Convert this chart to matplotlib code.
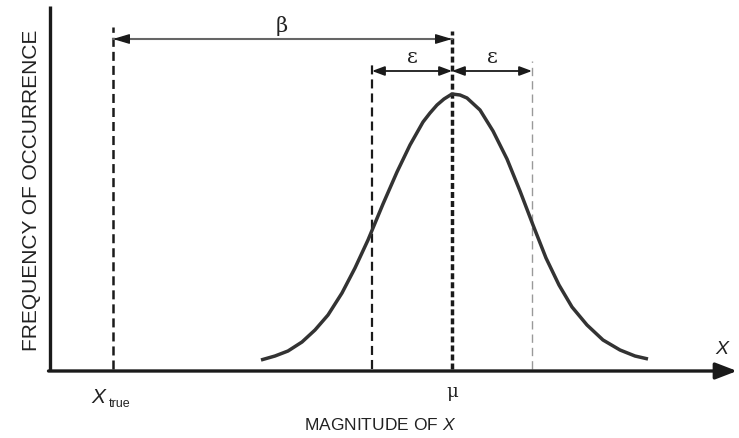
import matplotlib.pyplot as plt
import matplotlib as mpl

mpl.rcParams['lines.scale_dashes'] = False
mpl.rcParams['font.family'] = ['Liberation Sans', 'DejaVu Sans']
mpl.rcParams['mathtext.fontset'] = 'custom'
mpl.rcParams['mathtext.rm'] = 'Liberation Sans'
mpl.rcParams['mathtext.it'] = 'Liberation Sans:italic'

# bell curve (x from the y axis, y up from the x axis)
curve_x = [211, 225, 238, 252, 265, 278, 292, 305, 318, 333, 347, 360, 373, 380,
           387, 394, 402, 410, 417, 430, 443, 457, 470, 483, 496, 509, 522, 537,
           553, 570, 585, 598]
curve_y = [11, 15, 20, 29, 41, 56, 78, 103, 131, 167, 199, 226, 249, 258,
           266, 272, 277, 276, 273, 261, 240, 212, 180, 146, 113, 86, 64, 46,
           31, 21, 15, 12]

x_true = 63
mu = 402
eps = 80
x_end = 687
y_top = 365

beta_y = 332
eps_y = 300

fig = plt.figure(figsize=(7.39, 4.39), dpi=100)
ax = fig.add_axes([0, 0, 1, 1])
ax.set_xlim(-50, 689)
ax.set_ylim(-67, 372)
ax.axis('off')

ink = '#1a1a1a'

# axes lines
ax.plot([0, 0], [0, y_top], color=ink, lw=2.4, solid_capstyle='butt')
ax.annotate('', xy=(x_end, 0), xytext=(-1.5, 0),
            arrowprops=dict(arrowstyle='-|>,head_length=1.3,head_width=0.5',
                            lw=2.4, color=ink, shrinkA=0, shrinkB=0))

# vertical dashed lines
ax.plot([x_true, x_true], [2, 344], color=ink, lw=1.8, linestyle=(0, (6.5, 3.6)))
ax.plot([mu, mu], [2, 340], color=ink, lw=2.5, linestyle=(0, (4.3, 2.2)))
ax.plot([mu - eps, mu - eps], [2, 310], color=ink, lw=1.6, linestyle=(0, (6.5, 3.6)))
ax.plot([mu + eps, mu + eps], [2, 310], color='#999999', lw=1.0, linestyle=(0, (6, 3.6)))

# curve
ax.plot(curve_x, curve_y, color='#333333', lw=2.5, solid_capstyle='butt',
        solid_joinstyle='round')

# beta arrow: grey shaft, black heads
ax.plot([x_true, mu], [beta_y, beta_y], color='#666666', lw=1.5)
for tip, tail in [(x_true, x_true + 14), (mu, mu - 14)]:
    ax.annotate('', xy=(tip, beta_y), xytext=(tail, beta_y),
                arrowprops=dict(arrowstyle='-|>,head_length=1.0,head_width=0.3',
                                lw=1.0, color=ink, shrinkA=0, shrinkB=0))

# epsilon arrows
for a, b in [(mu - eps, mu), (mu, mu + eps)]:
    ax.annotate('', xy=(b, eps_y), xytext=(a, eps_y),
                arrowprops=dict(arrowstyle='<|-|>,head_length=0.75,head_width=0.28',
                                lw=1.3, color=ink, shrinkA=0, shrinkB=0))

txt = '#222222'
ax.text((x_true + mu) / 2 - 0.5, beta_y + 4, 'β', fontsize=15, color=txt,
        ha='center', va='bottom', family='DejaVu Serif')
ax.text(mu - eps / 2, eps_y + 5, 'ε', fontsize=15, color=txt,
        ha='center', va='bottom', family='DejaVu Serif')
ax.text(mu + eps / 2, eps_y + 5, 'ε', fontsize=15, color=txt,
        ha='center', va='bottom', family='DejaVu Serif')

ax.text(x_end - 15, 14, 'X', fontsize=14, style='italic', color=txt,
        ha='center', va='bottom')
ax.text(x_true - 15, -26, 'X', fontsize=15, style='italic', color=txt,
        ha='center', va='center')
ax.text(x_true - 4, -32, 'true', fontsize=9, color=txt, ha='left', va='center')
ax.text(mu, -20, 'μ', fontsize=13, color=txt, ha='center', va='center',
        family='DejaVu Serif')

ax.text(330, -53, 'MAGNITUDE OF $X$', fontsize=12.5, color=txt,
        ha='center', va='center')

ax.text(-18, 182, 'FREQUENCY OF OCCURRENCE', fontsize=15, color=txt,
        rotation=90, ha='center', va='center')

fig.savefig('out.png', dpi=100)
